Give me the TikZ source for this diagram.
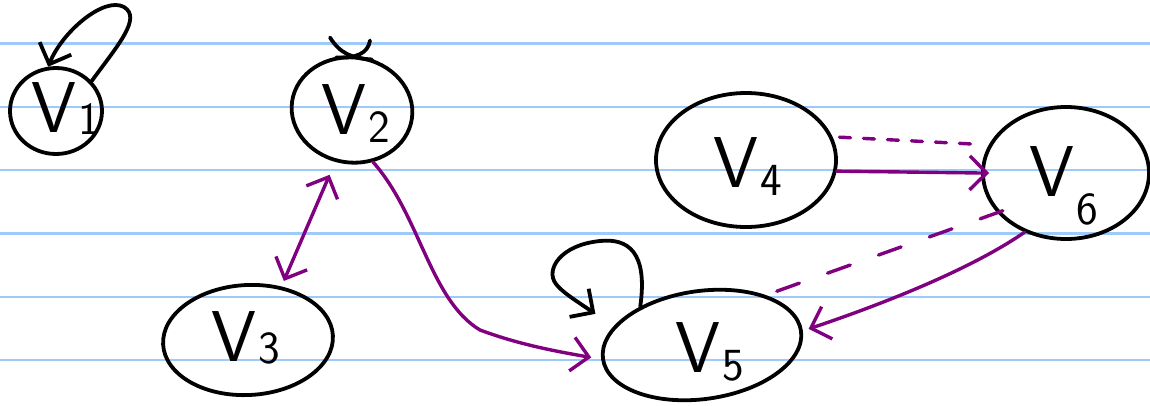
\documentclass[tikz,border=0pt]{standalone}
\usetikzlibrary{shapes.geometric,arrows.meta}
\definecolor{ruling}{RGB}{158,202,250}
\definecolor{plum}{RGB}{128,0,128}
% vertex label: V followed by a smaller digit dropped by #2
\newcommand\vlabel[2]{{\sffamily\fontsize{72}{72}\selectfont V\kern2pt\raisebox{-#2}{\fontsize{46}{46}\selectfont #1}}}
\begin{document}
\begin{tikzpicture}[x=1pt,y=-1pt,
  vert/.style={ellipse,draw=black,line width=3.8pt,inner sep=0pt},
  vtext/.style={inner sep=0pt,text=black},
  pedge/.style={draw=plum,line width=3.4pt,line cap=round},
  bedge/.style={draw=black,line width=3.8pt,line cap=round},
  barb/.style={-{Straight Barb[length=17pt,width=34pt]}},
  dbarb/.style={{Straight Barb[length=17pt,width=34pt]}-{Straight Barb[length=17pt,width=34pt]}}]
\useasboundingbox (0,0) rectangle (1150,405);
\fill[white] (0,0) rectangle (1150,405);

% ruled paper
\foreach \yy [count=\i] in {43.5,106.7,170,233.3,296.7,360}
  \draw[ruling,line width=2.4pt] (0,\yy) coordinate (l\i) -- (1150,\yy) coordinate (r\i);

% vertices
\node[vert,minimum width=92pt,minimum height=86pt] (v1) at (56,111) {};
\node[vert,minimum width=121pt,minimum height=105pt,rotate=-8] (v2) at (352,110) {};
\node[vert,minimum width=170pt,minimum height=110pt,rotate=3] (v3) at (248,340) {};
\node[vert,minimum width=180pt,minimum height=134pt] (v4) at (746,160) {};
\node[vert,minimum width=200pt,minimum height=108pt,rotate=8] (v5) at (702,345) {};
\node[vert,minimum width=166pt,minimum height=132pt] (v6) at (1066,173) {};

% vertex labels
\node[vtext] (t1) at (66,109) {\vlabel{1}{2pt}};
\node[vtext] (t2) at (356,114) {\vlabel{2}{8pt}};
\node[vtext] (t3) at (246,338) {\vlabel{3}{2pt}};
\node[vtext] (t4) at (748,167) {\vlabel{4}{8pt}};
\node[vtext] (t5) at (710,352) {\vlabel{5}{8pt}};
\node[vtext] (t6) at (1064,186) {\vlabel{6}{28pt}};

% self-loops
\draw[bedge,barb] (v1.40) .. controls (118,45) and (142,18) .. (124,7)
  .. controls (104,-4) and (62,32) .. (v1.100);
% tiny crossed loop on top of V2
\coordinate (x2) at ([yshift=-2pt]v2.98);
\draw[bedge] ([shift={(-22,-20)}]x2) .. controls ([shift={(-12,-4)}]x2) and ([shift={(0,1)}]x2) .. ([shift={(20,2)}]x2);
\draw[bedge] ([shift={(18,-17)}]x2) .. controls ([shift={(16,-4)}]x2) and ([shift={(4,1)}]x2) .. ([shift={(-16,0)}]x2);
\draw[bedge,barb,shorten >=22pt] (v5.140) .. controls (648,252) and (628,238) .. (600,241)
  .. controls (560,245) and (545,270) .. (556,284)
  .. controls (562,292) and (575,300) .. (v5.160);

% purple connectors
\draw[pedge,dbarb,shorten <=6pt,shorten >=14pt] (v3.55) -- (v2.-100);
\draw[pedge,barb,shorten >=10pt] (v2.-60) .. controls (420,215) and (430,300) .. (480,330)
  .. controls (520,345) and (560,352) .. (v5.180);
\draw[pedge,barb,shorten >=-8pt] (v4.-7) -- (v6.west);
\draw[pedge,dash pattern=on 11pt off 13pt,shorten <=7pt,shorten >=10pt] (v4.15) -- (v6.160);
\draw[pedge,barb,shorten >=6pt] (v6.-125) .. controls (970,270) and (880,305) .. (v5.0);
\draw[pedge,dash pattern=on 24pt off 30pt,shorten <=-6pt] (v6.-150) -- (v5.30);
\end{tikzpicture}
\end{document}
